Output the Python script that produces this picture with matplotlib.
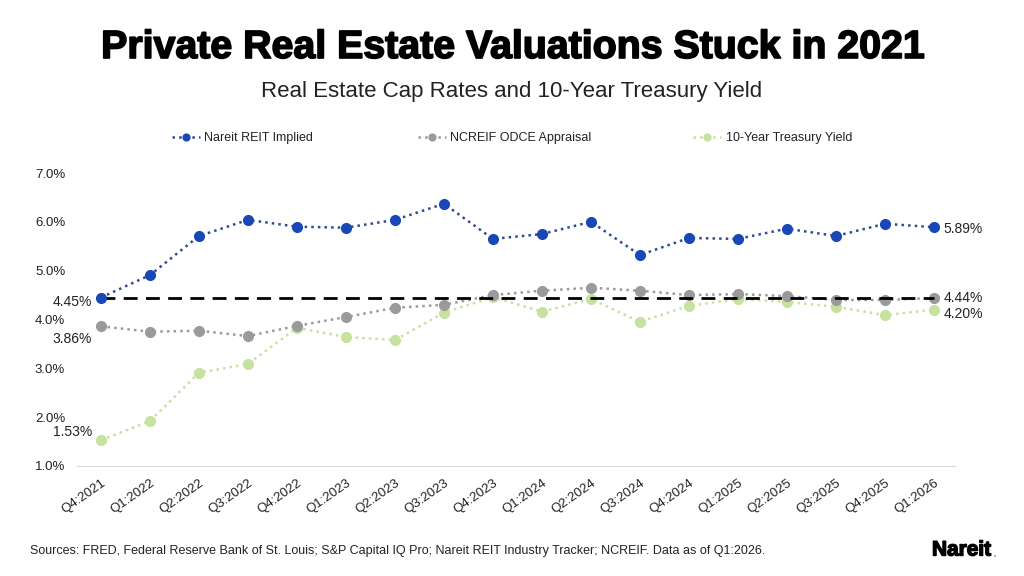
import numpy as np
import matplotlib.pyplot as plt
import matplotlib.patheffects as pe

plt.rcParams['font.family'] = ['Liberation Sans', 'DejaVu Sans']

quarters = ["Q4:2021", "Q1:2022", "Q2:2022", "Q3:2022", "Q4:2022", "Q1:2023",
            "Q2:2023", "Q3:2023", "Q4:2023", "Q1:2024", "Q2:2024", "Q3:2024",
            "Q4:2024", "Q1:2025", "Q2:2025", "Q3:2025", "Q4:2025", "Q1:2026"]
nareit = [4.45, 4.91, 5.71, 6.04, 5.90, 5.88, 6.04, 6.37, 5.65, 5.75, 6.00, 5.32,
          5.67, 5.65, 5.86, 5.71, 5.96, 5.89]
ncreif = [3.86, 3.75, 3.77, 3.66, 3.87, 4.05, 4.24, 4.30, 4.50, 4.59, 4.65, 4.59,
          4.50, 4.52, 4.48, 4.40, 4.40, 4.44]
treasury = [1.53, 1.92, 2.91, 3.09, 3.83, 3.64, 3.58, 4.14, 4.46, 4.16, 4.42, 3.95,
            4.28, 4.42, 4.36, 4.26, 4.09, 4.20]
baseline = 4.45

blue = "#1a47b8"
blue_line = "#2f4a8f"
gray = "#9a9a9a"
green = "#c6e29e"
txt = "#222222"

fig = plt.figure(figsize=(10.24, 5.76), dpi=100)
ax = fig.add_axes([77 / 1024, 1 - 466 / 576, (955 - 77) / 1024, (466 - 173) / 576])

x = np.arange(len(quarters))
l1, = ax.plot(x, nareit, linestyle=":", color=blue_line, lw=1.8, marker="o", ms=7,
              mfc=blue, mec=blue, label="Nareit REIT Implied", zorder=4)
l2, = ax.plot(x, ncreif, linestyle=":", color=gray, lw=1.8, marker="o", ms=7,
              mfc=gray, mec=gray, label="NCREIF ODCE Appraisal", zorder=3)
l3, = ax.plot(x, treasury, linestyle=":", color=green, lw=1.8, marker="o", ms=7,
              mfc=green, mec=green, label="10-Year Treasury Yield", zorder=2)
ax.plot([x[0], x[-1]], [baseline, baseline], color="black", lw=2,
        linestyle=(0, (5, 3)), zorder=3.5)

ax.set_xlim(-0.49, 17.43)
ax.set_ylim(1, 7)
ax.set_yticks(np.arange(1, 7.1, 1))
ax.set_yticklabels([f"{v:.1f}%" for v in np.arange(1, 7.1, 1)], fontsize=9.5, color=txt)
ax.set_xticks(x)
ax.set_xticklabels(quarters, rotation=35, ha="right", rotation_mode="anchor",
                   fontsize=9.5, color=txt)
for s in ["top", "right", "left"]:
    ax.spines[s].set_visible(False)
ax.spines["bottom"].set_color("#d9d9d9")
ax.tick_params(length=0)
ax.tick_params(axis="y", pad=8.5)
ax.tick_params(axis="x", pad=8)

# end labels
ax.annotate("4.45%", (x[0], nareit[0]), xytext=(-6.5, -3.5), textcoords="offset points",
            ha="right", va="center", fontsize=10, color=txt)
ax.annotate("3.86%", (x[0], ncreif[0]), xytext=(-6.5, -9), textcoords="offset points",
            ha="right", va="center", fontsize=10, color=txt)
ax.annotate("1.53%", (x[0], treasury[0]), xytext=(-6.5, 6), textcoords="offset points",
            ha="right", va="center", fontsize=10, color=txt)
ax.annotate("5.89%", (x[-1], nareit[-1]), xytext=(7, -1), textcoords="offset points",
            ha="left", va="center", fontsize=10, color=txt)
ax.annotate("4.44%", (x[-1], ncreif[-1]), xytext=(7, 0), textcoords="offset points",
            ha="left", va="center", fontsize=10, color=txt)
ax.annotate("4.20%", (x[-1], treasury[-1]), xytext=(7, -3), textcoords="offset points",
            ha="left", va="center", fontsize=10, color=txt)

# legend entries placed individually, like the original's spacing
for handle, lx in [(l1, 172), (l2, 418), (l3, 693)]:
    leg = fig.legend(handles=[handle], loc="center left",
                     bbox_to_anchor=(lx / 1024, 1 - 138 / 576), frameon=False,
                     fontsize=9, handlelength=2.2, handletextpad=0.4,
                     markerscale=0.7, borderpad=0, borderaxespad=0)
    for t in leg.get_texts():
        t.set_color(txt)

fig.text(0.5, 1 - 48 / 576, "Private Real Estate Valuations Stuck in 2021",
         ha="center", va="center", fontsize=28.3, fontweight="bold",
         path_effects=[pe.withStroke(linewidth=1.2, foreground="black")])
fig.text(0.5, 1 - 92 / 576, "Real Estate Cap Rates and 10-Year Treasury Yield",
         ha="center", va="center", fontsize=16, color=txt)
fig.text(30 / 1024, 1 - 551 / 576,
         "Sources: FRED, Federal Reserve Bank of St. Louis; S&P Capital IQ Pro; Nareit REIT Industry Tracker; NCREIF. Data as of Q1:2026.",
         ha="left", va="center", fontsize=9, color=txt)
fig.text(932 / 1024, 1 - 550 / 576, "Nareit", ha="left", va="center",
         fontsize=15, fontweight="bold",
         path_effects=[pe.withStroke(linewidth=1, foreground="black")])
fig.text(993 / 1024, 1 - 553 / 576, ".", ha="left", va="center",
         fontsize=10, color="#888888")

fig.savefig("out.png", dpi=100, facecolor="white")
